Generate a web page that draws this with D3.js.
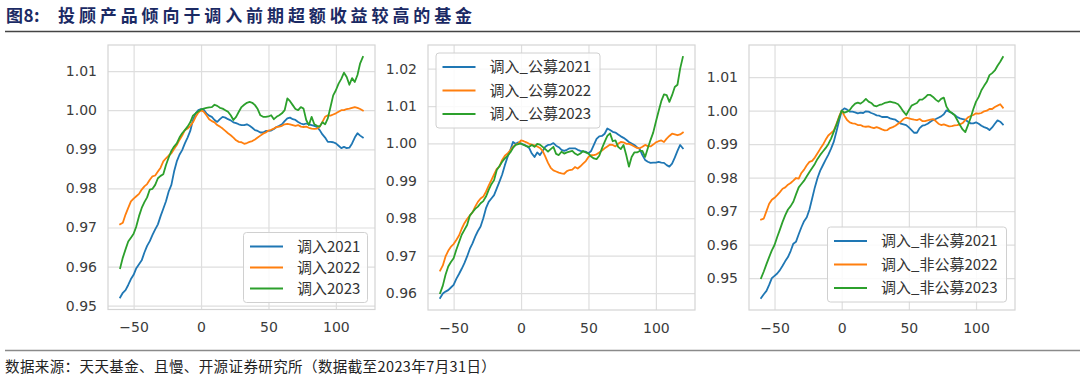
<!DOCTYPE html>
<html><head><meta charset="utf-8">
<script src="https://cdn.jsdelivr.net/npm/d3@7"></script>
<style>body{margin:0;background:#fff}svg{display:block}</style>
</head><body>
<svg id="chart" width="1080" height="380"></svg>
<script>
// ---------------- data ----------------
const days = [-60,-58,-56,-54,-52,-50,-48,-46,-44,-42,-40,-38,-36,-34,-32,-30,-28,-26,-24,-22,-20,-18,-16,-14,-12,-10,-8,-6,-4,-2,0,
  2,4,6,8,10,12,14,16,18,20,22,24,26,28,30,32,34,36,38,40,42,44,46,48,50,52,54,56,58,60,62,64,66,68,70,72,74,76,78,80,82,84,86,88,90,92,94,96,98,100,102,104,106,108,110,112,114,116,118,120];

const xTicks = [-50, 0, 50, 100];
const yTicks1 = [0.95, 0.96, 0.97, 0.98, 0.99, 1.00, 1.01];
const yTicks2 = [0.96, 0.97, 0.98, 0.99, 1.00, 1.01, 1.02];
const yTicks3 = [0.95, 0.96, 0.97, 0.98, 0.99, 1.00, 1.01];

const panel1Labels = ["调入2021", "调入2022", "调入2023"];
const panel2Labels = ["调入_公募2021", "调入_公募2022", "调入_公募2023"];
const panel3Labels = ["调入_非公募2021", "调入_非公募2022", "调入_非公募2023"];

const titlePrefix = "图8:";
const titleText = "投顾产品倾向于调入前期超额收益较高的基金";
const sourceText = "数据来源：天天基金、且慢、开源证券研究所（数据截至2023年7月31日）";

// panel 1: 调入
const p1_2021 = [0.9521,0.9533,0.9540,0.9553,0.9568,0.9579,0.9596,0.9606,0.9616,0.9636,0.9653,0.9665,0.9681,0.9695,0.9708,0.9729,0.9748,0.9767,0.9792,0.9809,0.9843,0.9869,0.9886,0.9898,0.9915,0.9930,0.9947,0.9975,0.9992,1.0000,1.0003,
  1.0001,0.9992,0.9986,0.9983,0.9975,0.9970,0.9977,0.9983,0.9981,0.9977,0.9974,0.9969,0.9967,0.9964,0.9962,0.9962,0.9964,0.9960,0.9955,0.9949,0.9947,0.9943,0.9943,0.9947,0.9947,0.9948,0.9952,0.9957,0.9960,0.9964,0.9972,0.9979,0.9981,0.9977,0.9975,0.9970,0.9966,0.9964,0.9966,0.9964,0.9962,0.9960,0.9957,0.9949,0.9938,0.9930,0.9919,0.9919,0.9918,0.9915,0.9909,0.9903,0.9906,0.9903,0.9904,0.9915,0.9930,0.9941,0.9935,0.9930];
const p1_2022 = [0.9708,0.9712,0.9733,0.9750,0.9767,0.9774,0.9780,0.9786,0.9797,0.9805,0.9811,0.9822,0.9831,0.9833,0.9843,0.9853,0.9869,0.9877,0.9884,0.9890,0.9901,0.9911,0.9924,0.9935,0.9949,0.9953,0.9960,0.9969,0.9983,0.9994,1.0000,
  0.9996,0.9987,0.9977,0.9972,0.9969,0.9962,0.9958,0.9953,0.9947,0.9941,0.9936,0.9930,0.9923,0.9919,0.9918,0.9914,0.9916,0.9919,0.9921,0.9925,0.9930,0.9935,0.9940,0.9943,0.9948,0.9950,0.9953,0.9957,0.9958,0.9960,0.9964,0.9965,0.9964,0.9962,0.9960,0.9962,0.9958,0.9957,0.9958,0.9955,0.9953,0.9952,0.9953,0.9958,0.9970,0.9983,0.9987,0.9986,0.9989,0.9992,0.9996,1.0000,1.0000,1.0003,1.0004,1.0006,1.0008,1.0006,1.0003,0.9999];
const p1_2023 = [0.9596,0.9623,0.9644,0.9664,0.9674,0.9684,0.9703,0.9729,0.9750,0.9765,0.9777,0.9797,0.9799,0.9809,0.9826,0.9832,0.9836,0.9860,0.9879,0.9896,0.9907,0.9915,0.9930,0.9941,0.9949,0.9958,0.9969,0.9986,0.9992,0.9997,1.0002,
  1.0004,1.0006,1.0007,1.0008,1.0014,1.0011,1.0006,1.0004,1.0000,0.9996,0.9987,0.9975,0.9983,0.9996,1.0008,1.0014,1.0019,1.0021,1.0019,1.0013,1.0003,0.9987,0.9983,0.9983,0.9984,0.9987,0.9977,0.9983,0.9987,0.9992,1.0000,1.0030,1.0023,1.0013,1.0003,1.0000,1.0008,1.0004,0.9975,0.9962,0.9983,0.9964,0.9960,0.9958,0.9969,0.9964,0.9979,1.0008,1.0038,1.0051,1.0068,1.0080,1.0096,1.0085,1.0065,1.0082,1.0072,1.0090,1.0120,1.0136];

// panel 2: 调入_公募
const p2_2021 = [0.9587,0.9599,0.9604,0.9608,0.9615,0.9622,0.9638,0.9651,0.9665,0.9680,0.9698,0.9718,0.9733,0.9751,0.9766,0.9778,0.9800,0.9827,0.9844,0.9853,0.9862,0.9880,0.9898,0.9917,0.9942,0.9964,0.9982,1.0004,0.9999,1.0003,0.9999,
  0.9997,0.9993,0.9988,0.9973,0.9964,0.9976,0.9969,0.9980,0.9991,0.9996,0.9997,1.0001,0.9994,0.9990,0.9983,0.9980,0.9983,0.9987,0.9987,0.9987,0.9983,0.9980,0.9978,0.9978,0.9974,0.9980,0.9996,1.0012,1.0019,1.0020,1.0026,1.0040,1.0036,1.0031,1.0029,1.0024,1.0019,1.0015,1.0010,1.0004,1.0000,0.9996,0.9990,0.9985,0.9969,0.9956,0.9951,0.9948,0.9949,0.9949,0.9951,0.9949,0.9948,0.9942,0.9938,0.9946,0.9962,0.9980,0.9996,0.9987];
const p2_2022 = [0.9660,0.9674,0.9698,0.9713,0.9724,0.9731,0.9742,0.9754,0.9772,0.9787,0.9798,0.9807,0.9816,0.9831,0.9844,0.9853,0.9858,0.9871,0.9887,0.9902,0.9917,0.9932,0.9938,0.9956,0.9967,0.9973,0.9982,0.9991,0.9997,1.0000,1.0008,
  1.0006,1.0003,0.9999,0.9997,0.9995,0.9992,0.9988,0.9980,0.9965,0.9948,0.9935,0.9928,0.9925,0.9922,0.9920,0.9919,0.9926,0.9929,0.9930,0.9937,0.9933,0.9939,0.9946,0.9953,0.9964,0.9969,0.9969,0.9971,0.9976,0.9981,0.9987,0.9992,0.9997,0.9996,0.9992,0.9999,1.0004,1.0003,0.9999,0.9999,0.9996,0.9992,0.9988,0.9987,0.9991,0.9996,0.9993,0.9992,0.9997,1.0003,1.0006,1.0008,1.0004,1.0013,1.0020,1.0026,1.0024,1.0022,1.0024,1.0029];
const p2_2023 = [0.9600,0.9620,0.9649,0.9671,0.9683,0.9693,0.9716,0.9736,0.9756,0.9769,0.9782,0.9807,0.9816,0.9825,0.9831,0.9840,0.9846,0.9858,0.9876,0.9891,0.9902,0.9929,0.9940,0.9951,0.9960,0.9967,0.9976,0.9988,0.9996,0.9998,1.0000,
  0.9996,0.9993,0.9991,0.9996,0.9991,0.9999,0.9997,0.9991,0.9985,0.9978,0.9985,0.9991,0.9972,0.9969,0.9978,0.9973,0.9976,0.9978,0.9980,0.9973,0.9969,0.9973,0.9980,0.9976,0.9973,0.9965,0.9960,0.9958,0.9967,0.9987,1.0004,1.0020,1.0027,1.0006,1.0008,0.9991,0.9985,0.9996,0.9969,0.9938,0.9964,0.9976,0.9976,0.9980,0.9980,0.9964,0.9987,1.0009,1.0029,1.0058,1.0086,1.0113,1.0131,1.0129,1.0111,1.0129,1.0151,1.0157,1.0200,1.0231];

// panel 3: 调入_非公募
const p3_2021 = [0.9441,0.9452,0.9462,0.9480,0.9500,0.9507,0.9514,0.9524,0.9537,0.9551,0.9563,0.9581,0.9603,0.9609,0.9631,0.9652,0.9670,0.9682,0.9705,0.9738,0.9771,0.9799,0.9821,0.9837,0.9853,0.9868,0.9886,0.9906,0.9936,0.9969,1.0000,
  1.0007,1.0003,0.9997,0.9997,0.9995,0.9992,0.9994,0.9993,0.9998,0.9997,0.9993,0.9990,0.9986,0.9985,0.9981,0.9981,0.9981,0.9977,0.9975,0.9973,0.9967,0.9961,0.9959,0.9957,0.9950,0.9942,0.9934,0.9934,0.9948,0.9955,0.9957,0.9961,0.9967,0.9972,0.9975,0.9979,0.9983,0.9989,1.0001,0.9997,0.9993,0.9987,0.9981,0.9977,0.9975,0.9973,0.9967,0.9962,0.9962,0.9965,0.9961,0.9955,0.9951,0.9948,0.9942,0.9950,0.9961,0.9971,0.9967,0.9959];
const p3_2022 = [0.9675,0.9678,0.9700,0.9722,0.9734,0.9740,0.9748,0.9757,0.9767,0.9771,0.9779,0.9784,0.9791,0.9799,0.9797,0.9814,0.9824,0.9837,0.9847,0.9850,0.9860,0.9873,0.9886,0.9898,0.9913,0.9926,0.9933,0.9940,0.9959,0.9982,1.0000,
  0.9985,0.9972,0.9965,0.9962,0.9961,0.9957,0.9957,0.9953,0.9952,0.9953,0.9950,0.9948,0.9951,0.9948,0.9944,0.9941,0.9942,0.9948,0.9951,0.9955,0.9961,0.9967,0.9975,0.9979,0.9977,0.9975,0.9973,0.9972,0.9975,0.9969,0.9969,0.9971,0.9973,0.9975,0.9969,0.9961,0.9957,0.9959,0.9956,0.9953,0.9954,0.9956,0.9957,0.9959,0.9963,0.9972,0.9980,0.9984,0.9987,0.9992,0.9991,0.9993,0.9998,1.0000,1.0005,1.0005,1.0011,1.0015,1.0019,1.0009];
const p3_2023 = [0.9500,0.9520,0.9542,0.9563,0.9583,0.9599,0.9623,0.9645,0.9668,0.9688,0.9705,0.9715,0.9728,0.9750,0.9771,0.9781,0.9791,0.9804,0.9817,0.9829,0.9841,0.9856,0.9868,0.9878,0.9888,0.9900,0.9916,0.9936,0.9957,0.9979,1.0000,
  0.9994,0.9997,1.0002,1.0013,1.0021,1.0024,1.0021,1.0027,1.0035,1.0027,1.0023,1.0015,1.0013,1.0017,1.0019,1.0023,1.0025,1.0027,1.0025,1.0023,1.0019,1.0009,0.9997,0.9987,1.0001,1.0015,1.0019,1.0023,1.0033,1.0033,1.0039,1.0047,1.0047,1.0041,1.0033,1.0027,1.0035,1.0039,1.0012,0.9999,0.9993,0.9987,0.9972,0.9957,0.9944,0.9936,0.9957,0.9979,1.0005,1.0027,1.0041,1.0061,1.0074,1.0086,1.0106,1.0112,1.0120,1.0134,1.0146,1.0160];

const colors = ["#1f77b4", "#ff7f0e", "#2ca02c"];

// ---------------- drawing ----------------
const svg = d3.select("#chart");
svg.append("rect").attr("width", 1080).attr("height", 380).attr("fill", "#fff");

// title
svg.append("text").attr("x", 6).attr("y", 22)
  .attr("font-family", "'Noto Sans CJK SC', sans-serif").attr("font-weight", 700)
  .attr("font-size", 17).attr("fill", "#1b2a64").attr("letter-spacing", 0.5)
  .text(titlePrefix);
svg.append("text").attr("x", 58).attr("y", 22)
  .attr("font-family", "'Noto Sans CJK SC', sans-serif").attr("font-weight", 700)
  .attr("font-size", 17).attr("fill", "#1b2a64").attr("letter-spacing", 3.9)
  .text(titleText);
svg.append("line").attr("x1", 5).attr("x2", 1080).attr("y1", 31.5).attr("y2", 31.5)
  .attr("stroke", "#444").attr("stroke-width", 1.4);

// footer
svg.append("line").attr("x1", 5).attr("x2", 1080).attr("y1", 350.5).attr("y2", 350.5)
  .attr("stroke", "#8a8a8a").attr("stroke-width", 1.4);
svg.append("text").attr("x", 5).attr("y", 372)
  .attr("font-family", "'Noto Sans CJK SC', sans-serif")
  .attr("font-size", 14.5).attr("fill", "#222").attr("letter-spacing", 0.4)
  .text(sourceText);

const panels = [
  { l: 108, r: 375, t: 45, b: 309.5, series: [p1_2021, p1_2022, p1_2023], labels: panel1Labels, yTicks: yTicks1,
    leg: { x: 243.5, y: 232.5, w: 124, h: 70 } },
  { l: 428, r: 695, t: 45, b: 310, series: [p2_2021, p2_2022, p2_2023], labels: panel2Labels, yTicks: yTicks2,
    leg: { x: 436, y: 53, w: 164, h: 75 } },
  { l: 749, r: 1015, t: 45, b: 310, series: [p3_2021, p3_2022, p3_2023], labels: panel3Labels, yTicks: yTicks3,
    leg: { x: 827.5, y: 227, w: 179, h: 75 } }
];

const tickFont = "'DejaVu Sans', sans-serif";

panels.forEach(p => {
  const g = svg.append("g");
  const xExt = d3.extent(days);
  const xPad = (xExt[1] - xExt[0]) * 0.05;
  const x = d3.scaleLinear().domain([xExt[0] - xPad, xExt[1] + xPad]).range([p.l, p.r]);
  const allVals = p.series.flat();
  const yExt = d3.extent(allVals);
  const yPad = (yExt[1] - yExt[0]) * 0.05;
  const y = d3.scaleLinear().domain([yExt[0] - yPad, yExt[1] + yPad]).range([p.b, p.t]);

  // y axis with grid
  const ya = g.append("g").attr("transform", `translate(${p.l},0)`)
    .call(d3.axisLeft(y).tickValues(p.yTicks).tickSize(-(p.r - p.l)).tickPadding(11).tickFormat(d3.format(".2f")));
  ya.select(".domain").remove();
  ya.selectAll(".tick line").attr("stroke", "#dedede").attr("stroke-width", 1.2);
  ya.selectAll(".tick text").attr("font-family", tickFont).attr("font-size", 14).attr("fill", "#3c3c3c");

  // x axis with grid
  const xa = g.append("g").attr("transform", `translate(0,${p.b})`)
    .call(d3.axisBottom(x).tickValues(xTicks).tickSize(-(p.b - p.t)).tickPadding(13).tickFormat(d3.format("d")));
  xa.select(".domain").remove();
  xa.selectAll(".tick line").attr("stroke", "#dedede").attr("stroke-width", 1.2);
  xa.selectAll(".tick text").attr("font-family", tickFont).attr("font-size", 14).attr("fill", "#3c3c3c");

  // frame
  g.append("rect").attr("x", p.l).attr("y", p.t).attr("width", p.r - p.l).attr("height", p.b - p.t)
    .attr("fill", "none").attr("stroke", "#d4d4d4").attr("stroke-width", 1.2);

  // lines
  const line = d3.line().x((d, i) => x(days[i])).y(d => y(d));
  p.series.forEach((s, k) => {
    g.append("path").datum(s).attr("d", line)
      .attr("fill", "none").attr("stroke", colors[k]).attr("stroke-width", 1.8)
      .attr("stroke-linejoin", "round").attr("stroke-linecap", "square");
  });

  // legend
  const L = p.leg;
  const lg = g.append("g");
  lg.append("rect").attr("x", L.x).attr("y", L.y).attr("width", L.w).attr("height", L.h)
    .attr("rx", 3).attr("fill", "#fff").attr("fill-opacity", 0.85)
    .attr("stroke", "#d0d0d0").attr("stroke-width", 1);
  const step = (L.h - 28) / 2;
  p.labels.forEach((lab, k) => {
    const cy = L.y + 14 + k * step;
    lg.append("line").attr("x1", L.x + 6.5).attr("x2", L.x + 39.5).attr("y1", cy).attr("y2", cy)
      .attr("stroke", colors[k]).attr("stroke-width", 1.8);
    lg.append("text").attr("x", L.x + 53.5).attr("y", cy).attr("dy", "0.35em")
      .attr("font-family", "'Noto Sans CJK SC', sans-serif").attr("font-size", 15).attr("fill", "#333")
      .text(lab);
  });
});
</script>
</body></html>
